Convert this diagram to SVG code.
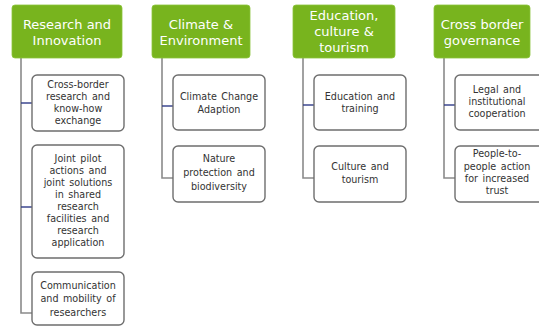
<svg xmlns="http://www.w3.org/2000/svg" width="539" height="327" viewBox="0 0 539 327">
<style>
.hdr{fill:#78b41e;stroke:#8cc43a;stroke-width:0.8}
.box{fill:#ffffff;stroke:#6e6e6e;stroke-width:1.4}
.ht{font-family:"DejaVu Sans",Verdana,sans-serif;font-size:13px;fill:#ffffff;text-anchor:middle}
.ct{font-family:"DejaVu Sans",Verdana,sans-serif;font-size:9.6px;fill:#333333;text-anchor:middle;word-spacing:1.5px}
.v{stroke:#8a8a8a;stroke-width:1.6;fill:none}
.b{stroke:#2e3a87;stroke-width:1.4;fill:none}
</style>
<rect width="539" height="327" fill="#ffffff"/>
<g id="connectors">
<path class="v" d="M21,58 V313 H32"/>
<path class="b" d="M21,103 H32"/>
<path class="b" d="M21,207 H32"/>
<path class="v" d="M162,58 V178 H173"/>
<path class="b" d="M162,106 H173"/>
<path class="v" d="M303,58 V178 H314"/>
<path class="b" d="M303,105 H314"/>
<path class="v" d="M444,58 V178 H455"/>
<path class="b" d="M444,105 H455"/>
</g>
<g id="h1"><rect class="hdr" x="12" y="5" width="110" height="53" rx="3"/><text class="ht" x="67" y="29">Research and</text><text class="ht" x="67" y="45">Innovation</text></g>
<g id="h2"><rect class="hdr" x="152" y="5" width="98" height="53" rx="3"/><text class="ht" x="201" y="29">Climate &amp;</text><text class="ht" x="201" y="45">Environment</text></g>
<g id="h3"><rect class="hdr" x="293" y="5" width="102" height="53" rx="3"/><text class="ht" x="344" y="20">Education,</text><text class="ht" x="344" y="36">culture &amp;</text><text class="ht" x="344" y="52">tourism</text></g>
<g id="h4"><rect class="hdr" x="434" y="5" width="96" height="53" rx="3"/><text class="ht" x="482" y="29">Cross border</text><text class="ht" x="482" y="45">governance</text></g>

<g id="c1a"><rect class="box" x="32" y="75" width="92" height="56" rx="5"/><text class="ct" x="78" y="88">Cross-border</text><text class="ct" x="78" y="100">research and</text><text class="ct" x="78" y="112">know-how</text><text class="ct" x="78" y="124">exchange</text></g>
<g id="c1b"><rect class="box" x="32" y="145" width="92" height="113" rx="5"/><text class="ct" x="78" y="162">Joint pilot</text><text class="ct" x="78" y="174">actions and</text><text class="ct" x="78" y="186">joint solutions</text><text class="ct" x="78" y="198">in shared</text><text class="ct" x="78" y="210">research</text><text class="ct" x="78" y="222">facilities and</text><text class="ct" x="78" y="234">research</text><text class="ct" x="78" y="246">application</text></g>
<g id="c1c"><rect class="box" x="32" y="272" width="92" height="53" rx="5"/><text class="ct" x="78" y="289">Communication</text><text class="ct" x="78" y="302">and mobility of</text><text class="ct" x="78" y="316">researchers</text></g>

<g id="c2a"><rect class="box" x="173" y="75" width="92" height="55" rx="5"/><text class="ct" x="219" y="100">Climate Change</text><text class="ct" x="219" y="113">Adaption</text></g>
<g id="c2b"><rect class="box" x="173" y="146" width="92" height="56" rx="5"/><text class="ct" x="219" y="162">Nature</text><text class="ct" x="219" y="176">protection and</text><text class="ct" x="219" y="190">biodiversity</text></g>

<g id="c3a"><rect class="box" x="314" y="75" width="92" height="55" rx="5"/><text class="ct" x="360" y="100">Education and</text><text class="ct" x="360" y="112">training</text></g>
<g id="c3b"><rect class="box" x="314" y="146" width="92" height="56" rx="5"/><text class="ct" x="360" y="170">Culture and</text><text class="ct" x="360" y="183">tourism</text></g>

<g id="c4a"><rect class="box" x="455" y="75" width="90" height="55" rx="5"/><text class="ct" x="497" y="93">Legal and</text><text class="ct" x="497" y="105">institutional</text><text class="ct" x="497" y="117">cooperation</text></g>
<g id="c4b"><rect class="box" x="455" y="146" width="90" height="56" rx="5"/><text class="ct" x="497" y="157">People-to-</text><text class="ct" x="497" y="170">people action</text><text class="ct" x="497" y="182">for increased</text><text class="ct" x="497" y="194">trust</text></g>
</svg>
